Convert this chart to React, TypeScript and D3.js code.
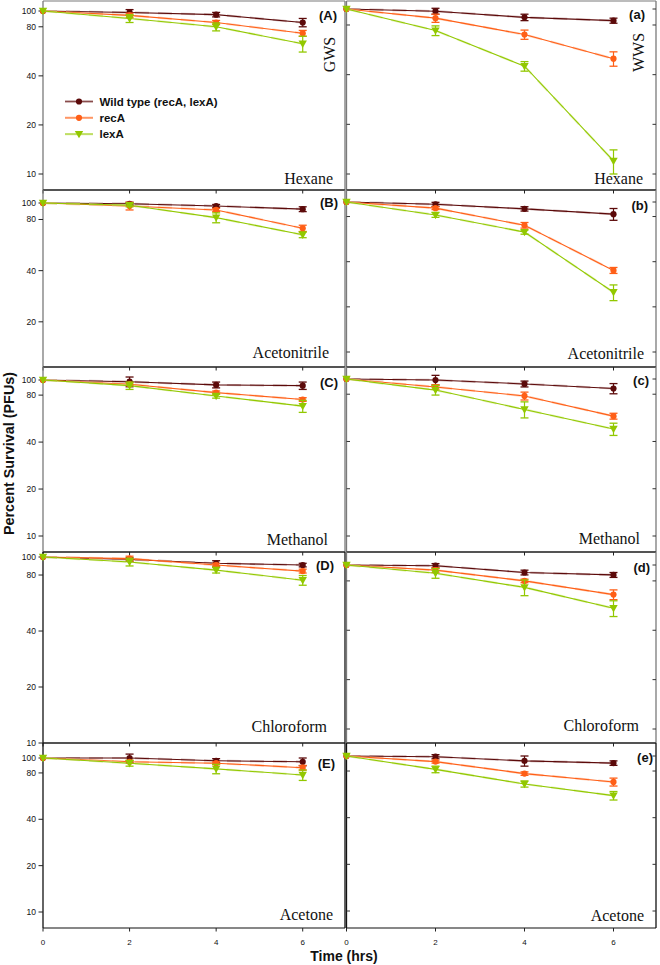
import React from "react";
import * as d3 from "d3";

// ---------- data ----------
const times = [0, 2, 4, 6];
const solvents = ["Hexane", "Acetonitrile", "Methanol", "Chloroform", "Acetone"];
const seriesNames = ["Wild type (recA, lexA)", "recA", "lexA"];
const yTickValues = [100, 80, 40, 20, 10];
const xTickValues = [0, 2, 4, 6];
const gwsLetters = ["(A)", "(B)", "(C)", "(D)", "(E)"];
const wwsLetters = ["(a)", "(b)", "(c)", "(d)", "(e)"];
const columnTitles = ["GWS", "WWS"];

// GWS column (left)
const gwsWild = [
  [100, 98, 95, 85],
  [100, 99, 96, 92],
  [100, 97.5, 93, 92],
  [100, 97, 92.5, 90.5],
  [100, 100, 96, 94.5],
];
const gwsWildErr = [
  [0, 4, 3, 5],
  [0, 2, 2, 3],
  [0, 7, 4, 5],
  [0, 2, 3, 2],
  [0, 6, 3, 5.5],
];
const gwsRecA = [
  [100, 94, 85, 73],
  [100, 96, 91, 71],
  [100, 94, 83, 75],
  [100, 98, 90.5, 84],
  [100, 94.5, 92.5, 86.5],
];
const gwsRecAErr = [
  [0, 3, 2.5, 3],
  [0, 5, 2, 3],
  [0, 2, 2, 2],
  [0, 3, 2, 2],
  [0, 2, 2, 3],
];
const gwsLexA = [
  [100, 90, 80, 63],
  [100, 97, 82, 65],
  [100, 92, 79, 68],
  [100, 94, 85, 75],
  [100, 92.5, 85, 77.5],
];
const gwsLexAErr = [
  [0, 5, 4.5, 7],
  [0, 2, 5.5, 2.5],
  [0, 5, 2.5, 6],
  [0, 4.5, 3, 4.5],
  [0, 4, 6, 6],
];

// WWS column (right)
const wwsWild = [
  [100, 97, 89, 85],
  [100, 96.5, 90, 83],
  [100, 98.5, 93, 87],
  [100, 99, 90, 87],
  [100, 99, 93, 90],
];
const wwsWildErr = [
  [0, 4, 4, 3],
  [0, 3, 3, 7.5],
  [0, 7, 4, 6.5],
  [0, 3, 3, 3],
  [0, 3, 7, 3],
];
const wwsRecA = [
  [100, 88, 70, 50],
  [100, 91, 70, 35],
  [100, 89, 78, 58],
  [100, 93, 80, 66],
  [100, 92, 77, 68],
];
const wwsRecAErr = [
  [0, 5, 4.5, 5],
  [0, 2, 3, 1.6],
  [0, 3, 4.5, 2.5],
  [0, 3, 2, 4.5],
  [0, 2, 2, 4],
];
const wwsLexA = [
  [100, 74, 45, 12],
  [100, 82, 63, 25],
  [100, 85, 64, 48],
  [100, 89, 73, 54.5],
  [100, 82, 66, 55.5],
];
const wwsLexAErr = [
  [0, 5, 3, 2],
  [0, 3, 2, 3],
  [0, 6, 7.5, 4.3],
  [0, 6, 8, 6],
  [0, 4, 3, 3.5],
];

// ---------- layout ----------
const W = 660;
const H = 965;
const rowTop = [1, 190, 367, 552, 743];
const rowBottom = [190, 367, 552, 743, 928];
const leftY100 = [11, 203, 380, 557, 758];
const leftDecade = [163, 170, 156, 186, 154];
const rightY100 = [9, 202, 379, 565, 756];
const rightDecade = [165, 150, 157, 164, 155];
const leftLetterPos = [[337, 20], [338, 207], [338, 387], [334, 570], [335, 768]];
const rightLetterPos = [[645, 19], [648, 210], [649, 385], [650, 572], [653, 762]];
const leftSolventPos = [[333, 184], [329, 358], [328, 545], [327, 732], [333, 920]];
const rightSolventPos = [[643, 184], [644, 359], [640, 544], [639, 731], [644, 921]];

const SANS = "'Liberation Sans', Arial, sans-serif";
const SERIF = "'Liberation Serif', 'Times New Roman', serif";

const seriesStyle = [
  { color: "#5c0a0a", under: "#b38a8a", marker: "circle" },
  { color: "#ff5f17", under: "#ffb28c", marker: "circle" },
  { color: "#92c800", under: "#d2e88e", marker: "triangle" },
];

function Marker({ x, y, kind, color }: { x: number; y: number; kind: string; color: string }) {
  if (kind === "circle") return <circle cx={x} cy={y} r={3.1} fill={color} />;
  return <path d={`M${x - 4.2},${y - 3.2}L${x + 4.2},${y - 3.2}L${x},${y + 4.2}Z`} fill={color} />;
}

function Panel({ col, row }: { col: number; row: number }) {
  const left = col === 0;
  const x = d3.scaleLinear().domain([0, 7]).range(left ? [43, 346] : [346.5, 658]);
  const y100 = left ? leftY100[row] : rightY100[row];
  const dec = left ? leftDecade[row] : rightDecade[row];
  const y = d3.scaleLog().domain([100, 10]).range([y100, y100 + dec]);
  const top = rowTop[row];
  const bottom = rowBottom[row];
  const x0 = left ? 43 : 346.5;
  const x1 = left ? 345 : 656;
  const vals = left ? [gwsWild, gwsRecA, gwsLexA] : [wwsWild, wwsRecA, wwsLexA];
  const errs = left ? [gwsWildErr, gwsRecAErr, gwsLexAErr] : [wwsWildErr, wwsRecAErr, wwsLexAErr];
  const line = d3
    .line<number>()
    .x((_, i) => x(times[i]))
    .y((d) => y(d));
  const frameGray = "#7a7a7a";
  const vColor = row >= 3 && left ? "#111" : row === 4 ? "#111" : frameGray;
  const visibleTicks = yTickValues.filter((t) => y(t) >= top - 2 && y(t) <= bottom + 1);
  const letterPos = left ? leftLetterPos[row] : rightLetterPos[row];
  const solventPos = left ? leftSolventPos[row] : rightSolventPos[row];

  return (
    <g>
      {/* frame */}
      <line x1={x0} x2={x1} y1={top} y2={top} stroke={row === 0 ? frameGray : "#222"} strokeWidth={1.2} />
      <line x1={x0} x2={x1} y1={bottom} y2={bottom} stroke="#111" strokeWidth={1.2} />
      <line x1={x0} x2={x0} y1={top} y2={bottom} stroke={vColor} strokeWidth={1.3} />
      <line x1={x1} x2={x1} y1={top} y2={bottom} stroke={vColor} strokeWidth={1.3} />

      {/* y ticks */}
      {visibleTicks.map((t) =>
        left ? (
          <g key={t}>
            <line x1={x0 - 4.5} x2={x0} y1={y(t)} y2={y(t)} stroke="#222" strokeWidth={1} />
            <text x={x0 - 7} y={y(t) + 3} fontSize={8.5} fontFamily={SANS} textAnchor="end" fill="#111">
              {t}
            </text>
          </g>
        ) : (
          <g key={t}>
            <line x1={x0} x2={x0 + 3.5} y1={y(t)} y2={y(t)} stroke="#333" strokeWidth={1} />
            <line x1={x1 - 3.5} x2={x1} y1={y(t)} y2={y(t)} stroke="#333" strokeWidth={1} />
          </g>
        )
      )}

      {/* x ticks */}
      {xTickValues.map((t) => (
        <line key={t} x1={x(t)} x2={x(t)} y1={bottom} y2={bottom + 3.5} stroke="#222" strokeWidth={1} />
      ))}
      {row === 4 &&
        xTickValues.map((t) => (
          <text key={"l" + t} x={x(t)} y={945} fontSize={8} fontFamily={SANS} textAnchor="middle" fill="#111">
            {t}
          </text>
        ))}

      {/* series */}
      {vals.map((sv, si) => {
        const st = seriesStyle[si];
        const v = sv[row];
        const e = errs[si][row];
        return (
          <g key={si}>
            <path d={line(v) || ""} fill="none" stroke={st.under} strokeWidth={2.2} strokeDasharray="14,9" opacity={0.6} />
            <path d={line(v) || ""} fill="none" stroke={st.color} strokeWidth={1.1} />
            {v.map((d, i) =>
              e[i] > 0 ? (
                <g key={"e" + i}>
                  <line x1={x(times[i])} x2={x(times[i])} y1={y(d + e[i])} y2={y(d - e[i])} stroke={st.color} strokeWidth={1.2} />
                  <line x1={x(times[i]) - 4} x2={x(times[i]) + 4} y1={y(d + e[i])} y2={y(d + e[i])} stroke={st.color} strokeWidth={1.3} />
                  <line x1={x(times[i]) - 4} x2={x(times[i]) + 4} y1={y(d - e[i])} y2={y(d - e[i])} stroke={st.color} strokeWidth={1.3} />
                </g>
              ) : null
            )}
            {v.map((d, i) => (
              <Marker key={"m" + i} x={x(times[i])} y={y(d)} kind={st.marker} color={st.color} />
            ))}
          </g>
        );
      })}

      {/* labels */}
      <text x={letterPos[0]} y={letterPos[1]} fontSize={13} fontWeight="bold" fontFamily={SANS} textAnchor="end" fill="#111">
        {left ? gwsLetters[row] : wwsLetters[row]}
      </text>
      <text x={solventPos[0]} y={solventPos[1]} fontSize={16} fontFamily={SERIF} textAnchor="end" fill="#111">
        {solvents[row]}
      </text>
    </g>
  );
}

export default function App() {
  const rows = [0, 1, 2, 3, 4];
  return (
    <svg width={W} height={H} style={{ position: "absolute", left: 0, top: 0, background: "#fff" }}>
      <rect x={0} y={0} width={W} height={H} fill="#fff" />
      {rows.map((r) => (
        <Panel key={"L" + r} col={0} row={r} />
      ))}
      {rows.map((r) => (
        <Panel key={"R" + r} col={1} row={r} />
      ))}

      {/* column titles */}
      <text transform="translate(335,54.5) rotate(-90)" fontSize={16} fontFamily={SERIF} textAnchor="middle" fill="#111">
        {columnTitles[0]}
      </text>
      <text transform="translate(644,52.5) rotate(-90)" fontSize={16} fontFamily={SERIF} textAnchor="middle" fill="#111">
        {columnTitles[1]}
      </text>

      {/* legend */}
      {seriesNames.map((n, i) => {
        const st = seriesStyle[i];
        const ly = 101.5 + i * 16.3;
        return (
          <g key={n}>
            <line x1={65} x2={93} y1={ly} y2={ly} stroke={st.under} strokeWidth={2.2} />
            <line x1={65} x2={93} y1={ly} y2={ly} stroke={st.color} strokeWidth={0.8} opacity={0.6} />
            <Marker x={79} y={ly} kind={st.marker} color={st.color} />
            <text x={99.5} y={ly + 4} fontSize={11.5} fontWeight="bold" fontFamily={SANS} fill="#111">
              {n}
            </text>
          </g>
        );
      })}

      {/* axis titles */}
      <text x={344} y={961} fontSize={14} fontWeight="bold" fontFamily={SANS} textAnchor="middle" fill="#111">
        Time (hrs)
      </text>
      <text transform="translate(14,453.5) rotate(-90)" fontSize={14.4} fontWeight="bold" fontFamily={SANS} textAnchor="middle" fill="#111">
        Percent Survival (PFUs)
      </text>
    </svg>
  );
}
